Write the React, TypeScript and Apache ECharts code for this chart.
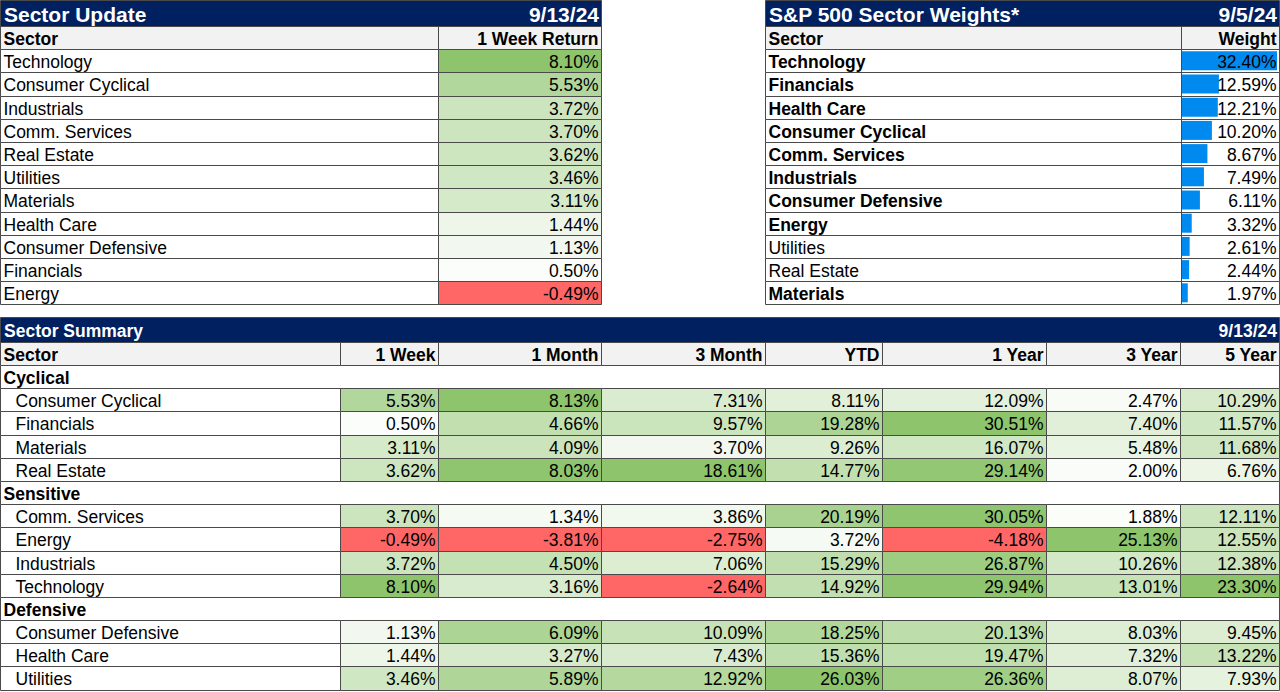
import React, { useEffect, useRef } from "react";
import * as echarts from "echarts";

// ---------------- data ----------------
const updateTitle = "Sector Update";
const updateDate = "9/13/24";
const updateHeaders = ["Sector", "1 Week Return"];
const updateSectors = [
  "Technology", "Consumer Cyclical", "Industrials", "Comm. Services", "Real Estate",
  "Utilities", "Materials", "Health Care", "Consumer Defensive", "Financials", "Energy",
];
const updateReturns = [8.1, 5.53, 3.72, 3.7, 3.62, 3.46, 3.11, 1.44, 1.13, 0.5, -0.49];

const weightsTitle = "S&P 500 Sector Weights*";
const weightsDate = "9/5/24";
const weightsHeaders = ["Sector", "Weight"];
const weightSectors = [
  "Technology", "Financials", "Health Care", "Consumer Cyclical", "Comm. Services",
  "Industrials", "Consumer Defensive", "Energy", "Utilities", "Real Estate", "Materials",
];
const weightValues = [32.4, 12.59, 12.21, 10.2, 8.67, 7.49, 6.11, 3.32, 2.61, 2.44, 1.97];
const weightBoldSectors = [
  "Technology", "Financials", "Health Care", "Consumer Cyclical", "Comm. Services",
  "Industrials", "Consumer Defensive", "Energy", "Materials",
];

const summaryTitle = "Sector Summary";
const summaryDate = "9/13/24";
const summaryHeaders = ["Sector", "1 Week", "1 Month", "3 Month", "YTD", "1 Year", "3 Year", "5 Year"];
const summaryGroupNames = ["Cyclical", "Sensitive", "Defensive"];
const cyclicalSectors = ["Consumer Cyclical", "Financials", "Materials", "Real Estate"];
const sensitiveSectors = ["Comm. Services", "Energy", "Industrials", "Technology"];
const defensiveSectors = ["Consumer Defensive", "Health Care", "Utilities"];
// values listed in the order: cyclical, sensitive, defensive sectors
const ret1Week = [5.53, 0.5, 3.11, 3.62, 3.7, -0.49, 3.72, 8.1, 1.13, 1.44, 3.46];
const ret1Month = [8.13, 4.66, 4.09, 8.03, 1.34, -3.81, 4.5, 3.16, 6.09, 3.27, 5.89];
const ret3Month = [7.31, 9.57, 3.7, 18.61, 3.86, -2.75, 7.06, -2.64, 10.09, 7.43, 12.92];
const retYTD = [8.11, 19.28, 9.26, 14.77, 20.19, 3.72, 15.29, 14.92, 18.25, 15.36, 26.03];
const ret1Year = [12.09, 30.51, 16.07, 29.14, 30.05, -4.18, 26.87, 29.94, 20.13, 19.47, 26.36];
const ret3Year = [2.47, 7.4, 5.48, 2.0, 1.88, 25.13, 10.26, 13.01, 8.03, 7.32, 8.07];
const ret5Year = [10.29, 11.57, 11.68, 6.76, 12.11, 12.55, 12.38, 23.3, 9.45, 13.22, 7.93];

// ---------------- layout & style ----------------
const FONT = "'Liberation Sans', Arial, sans-serif";
const FS = 17.5;
const TITLE_FS = 21;
const NAVY = "#002060";
const HEADER_BG = "#F2F2F2";
const BORDER = "#4a4a4a";
const GREEN = [141, 196, 108];
const RED = "#FF6666";
const BAR_BLUE = "#008AEF";
const ROW_H = 23.2;
const TOP_TITLE_Y = 0;
const TOP_TITLE_H = 26;
const TOP_HEAD_Y = 26;
const BOT_TITLE_Y = 317;
const BOT_TITLE_H = 25;
const BOT_HEAD_Y = 341.7;
const LEFT_EDGES = [0, 438, 601];
const RIGHT_EDGES = [765, 1181, 1279];
const BOTTOM_EDGES = [0, 340, 438, 601, 765, 882, 1046, 1180, 1279];
const INDENT = 12;

const fmt = (v: number) => v.toFixed(2) + "%";

function scaleColor(v: number, col: number[]): string {
  if (v < 0) return RED;
  const pos = col.filter((x) => x >= 0);
  const lo = Math.min(...pos) * 0.5;
  const hi = Math.max(...pos);
  const t = Math.max(0, hi > lo ? (v - lo) / (hi - lo) : 0);
  const c = [255, 255, 255].map((w, i) => Math.round(w + (GREEN[i] - w) * t));
  return `rgb(${c.join(",")})`;
}

type Cell = {
  row: number;
  text: string;
  fill: string;
  bold?: boolean;
  align: "left" | "right";
  indent?: number;
  spanRight?: number;
};

function buildOption() {
  const grids: any[] = [];
  const xAxes: any[] = [];
  const yAxes: any[] = [];
  const series: any[] = [];

  const addGrid = (left: number, right: number, top: number, rows: string[], xAxis: any) => {
    const idx = grids.length;
    grids.push({ left, top, width: right - left, height: rows.length * ROW_H });
    xAxes.push({ gridIndex: idx, show: false, ...xAxis });
    yAxes.push({ gridIndex: idx, type: "category", data: rows, inverse: true, show: false });
    return idx;
  };

  const addCells = (g: number, nRows: number, cells: Cell[]) => {
    series.push({
      type: "custom",
      xAxisIndex: g,
      yAxisIndex: g,
      z: 5,
      silent: true,
      data: cells.map((c) => [0, c.row]),
      renderItem: (params: any, api: any) => {
        const cell = cells[params.dataIndex];
        const cs = params.coordSys;
        const center = api.coord([0, cell.row]);
        const h = cs.height / nRows;
        const top = Math.round(center[1] - h / 2) + 0.5;
        const bottom = Math.round(center[1] + h / 2) + 0.5;
        const left = Math.round(cs.x) + 0.5;
        const right =
          (cell.spanRight !== undefined ? Math.round(cell.spanRight) : Math.round(cs.x + cs.width)) + 0.5;
        const tx = cell.align === "left" ? left + 3 + (cell.indent || 0) : right - 3;
        return {
          type: "group",
          children: [
            {
              type: "rect",
              shape: { x: left, y: top, width: right - left, height: bottom - top },
              style: { fill: cell.fill, stroke: BORDER, lineWidth: 1 },
            },
            {
              type: "text",
              style: {
                text: cell.text,
                x: tx,
                y: (top + bottom) / 2 + 0.5,
                align: cell.align,
                verticalAlign: "middle",
                fill: "#000",
                fontSize: FS,
                fontFamily: FONT,
                fontWeight: cell.bold ? "bold" : "normal",
              },
            },
          ],
        };
      },
    });
  };

  // ---- Sector Update (top left) ----
  {
    const rows = [updateHeaders[0], ...updateSectors];
    const g0 = addGrid(LEFT_EDGES[0], LEFT_EDGES[1], TOP_HEAD_Y, rows, { type: "category", data: [updateHeaders[0]] });
    addCells(g0, rows.length, [
      { row: 0, text: updateHeaders[0], fill: HEADER_BG, bold: true, align: "left" },
      ...updateSectors.map((s, i) => ({ row: i + 1, text: s, fill: "#fff", align: "left" as const })),
    ]);
    const g1 = addGrid(LEFT_EDGES[1], LEFT_EDGES[2], TOP_HEAD_Y, rows, { type: "category", data: [updateHeaders[1]] });
    addCells(g1, rows.length, [
      { row: 0, text: updateHeaders[1], fill: HEADER_BG, bold: true, align: "right" },
      ...updateReturns.map((v, i) => ({
        row: i + 1,
        text: fmt(v),
        fill: scaleColor(v, updateReturns),
        align: "right" as const,
      })),
    ]);
  }

  // ---- S&P 500 Sector Weights (top right) ----
  {
    const rows = [weightsHeaders[0], ...weightSectors];
    const g0 = addGrid(RIGHT_EDGES[0], RIGHT_EDGES[1], TOP_HEAD_Y, rows, { type: "category", data: [weightsHeaders[0]] });
    addCells(g0, rows.length, [
      { row: 0, text: weightsHeaders[0], fill: HEADER_BG, bold: true, align: "left" },
      ...weightSectors.map((s, i) => ({
        row: i + 1,
        text: s,
        fill: "#fff",
        bold: weightBoldSectors.includes(s),
        align: "left" as const,
      })),
    ]);
    const g1 = addGrid(RIGHT_EDGES[1], RIGHT_EDGES[2], TOP_HEAD_Y, rows, { type: "category", data: [weightsHeaders[1]] });
    addCells(g1, rows.length, [
      { row: 0, text: weightsHeaders[1], fill: HEADER_BG, bold: true, align: "right" },
      ...weightValues.map((v, i) => ({ row: i + 1, text: fmt(v), fill: "transparent", align: "right" as const })),
    ]);
    // data bars
    const gb = addGrid(RIGHT_EDGES[1] + 1, RIGHT_EDGES[2] - 2, TOP_HEAD_Y, rows, {
      type: "value",
      min: 0,
      max: Math.max(...weightValues),
    });
    series.push({
      type: "bar",
      xAxisIndex: gb,
      yAxisIndex: gb,
      data: ["-", ...weightValues],
      barWidth: 19,
      itemStyle: { color: BAR_BLUE },
      z: 2,
      silent: true,
    });
  }

  // ---- Sector Summary (bottom) ----
  {
    const groups = [cyclicalSectors, sensitiveSectors, defensiveSectors];
    const rows: string[] = [summaryHeaders[0]];
    const rowKinds: { kind: "group" | "sector"; name: string; vIdx: number }[] = [];
    let vIdx = 0;
    groups.forEach((list, gi) => {
      rows.push(summaryGroupNames[gi]);
      rowKinds.push({ kind: "group", name: summaryGroupNames[gi], vIdx: -1 });
      list.forEach((s) => {
        rows.push(s);
        rowKinds.push({ kind: "sector", name: s, vIdx: vIdx++ });
      });
    });
    const cols = [ret1Week, ret1Month, ret3Month, retYTD, ret1Year, ret3Year, ret5Year];
    const tableRight = BOTTOM_EDGES[BOTTOM_EDGES.length - 1];

    const g0 = addGrid(BOTTOM_EDGES[0], BOTTOM_EDGES[1], BOT_HEAD_Y, rows, { type: "category", data: [summaryHeaders[0]] });
    const nameCells: Cell[] = [{ row: 0, text: summaryHeaders[0], fill: HEADER_BG, bold: true, align: "left" }];
    rowKinds.forEach((rk, i) => {
      if (rk.kind === "group") {
        nameCells.push({ row: i + 1, text: rk.name, fill: "#fff", bold: true, align: "left", spanRight: tableRight });
      } else {
        nameCells.push({ row: i + 1, text: rk.name, fill: "#fff", align: "left", indent: INDENT });
      }
    });
    addCells(g0, rows.length, nameCells);

    cols.forEach((col, ci) => {
      const g = addGrid(BOTTOM_EDGES[ci + 1], BOTTOM_EDGES[ci + 2], BOT_HEAD_Y, rows, {
        type: "category",
        data: [summaryHeaders[ci + 1]],
      });
      const cells: Cell[] = [{ row: 0, text: summaryHeaders[ci + 1], fill: HEADER_BG, bold: true, align: "right" }];
      rowKinds.forEach((rk, i) => {
        if (rk.kind === "sector") {
          const v = col[rk.vIdx];
          cells.push({ row: i + 1, text: fmt(v), fill: scaleColor(v, col), align: "right" });
        }
      });
      addCells(g, rows.length, cells);
    });
  }

  const titleText = (text: string, x: number, y: number, align: string, size: number) => ({
    type: "text",
    z: 10,
    style: {
      text,
      x,
      y,
      align,
      textAlign: align,
      verticalAlign: "middle",
      textVerticalAlign: "middle",
      fill: "#fff",
      fontSize: size,
      fontFamily: FONT,
      fontWeight: "bold",
    },
  });
  const titleRect = (x0: number, x1: number, y: number, h: number) => ({
    type: "rect",
    z: 9,
    shape: { x: x0 + 0.5, y: y + 0.5, width: x1 - x0, height: h },
    style: { fill: NAVY, stroke: BORDER, lineWidth: 1 },
  });

  const graphic = [
    titleRect(LEFT_EDGES[0], LEFT_EDGES[2], TOP_TITLE_Y, TOP_TITLE_H),
    titleText(updateTitle, LEFT_EDGES[0] + 4, TOP_TITLE_Y + TOP_TITLE_H / 2 + 1, "left", TITLE_FS),
    titleText(updateDate, LEFT_EDGES[2] - 2, TOP_TITLE_Y + TOP_TITLE_H / 2 + 1, "right", TITLE_FS),
    titleRect(RIGHT_EDGES[0], RIGHT_EDGES[2], TOP_TITLE_Y, TOP_TITLE_H),
    titleText(weightsTitle, RIGHT_EDGES[0] + 4, TOP_TITLE_Y + TOP_TITLE_H / 2 + 1, "left", TITLE_FS),
    titleText(weightsDate, RIGHT_EDGES[2] - 2, TOP_TITLE_Y + TOP_TITLE_H / 2 + 1, "right", TITLE_FS),
    titleRect(BOTTOM_EDGES[0], BOTTOM_EDGES[BOTTOM_EDGES.length - 1], BOT_TITLE_Y, BOT_TITLE_H),
    titleText(summaryTitle, BOTTOM_EDGES[0] + 4, BOT_TITLE_Y + BOT_TITLE_H / 2 + 1, "left", FS),
    titleText(summaryDate, BOTTOM_EDGES[BOTTOM_EDGES.length - 1] - 2, BOT_TITLE_Y + BOT_TITLE_H / 2 + 1, "right", FS),
  ];

  return {
    animation: false,
    backgroundColor: "#ffffff",
    grid: grids,
    xAxis: xAxes,
    yAxis: yAxes,
    series,
    graphic,
  };
}

export default function App() {
  const ref = useRef<HTMLDivElement>(null);
  useEffect(() => {
    if (!ref.current) return;
    const chart = echarts.init(ref.current, undefined, { renderer: "svg" });
    chart.setOption(buildOption() as any);
    return () => chart.dispose();
  }, []);
  return (
    <div
      ref={ref}
      style={{ position: "fixed", left: 0, top: 0, width: 1280, height: 692, background: "#fff" }}
    />
  );
}
